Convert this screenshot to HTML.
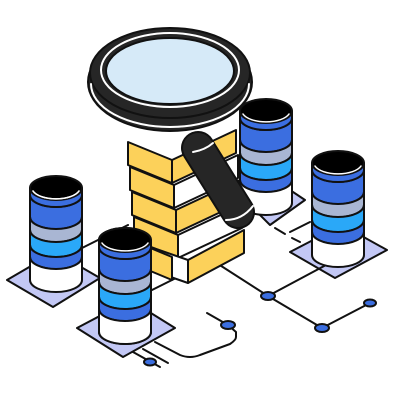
<!DOCTYPE html>
<html><head><meta charset="utf-8"><style>html,body{margin:0;padding:0;background:#fff}svg{display:block}</style></head>
<body>
<svg id="s" width="400" height="400" viewBox="0 0 400 400" xmlns="http://www.w3.org/2000/svg" stroke="#111" stroke-width="2" stroke-linejoin="round" stroke-linecap="round">
<!-- plates -->
<polygon points="7,280 53,307 100,278 55,252" fill="#c3c8f5"/>
<polygon points="77,328 123,357 175,328 130,300" fill="#c3c8f5"/>
<polygon points="240,195 270,225 305,200 275,180" fill="#c3c8f5"/>
<polygon points="290,252 335,278 387,250 342,225" fill="#c3c8f5"/>
<!-- connectors -->
<g fill="none">
<path d="M215,262 L268,296 L326,265"/>
<path d="M268,296 L322,328 L370,303"/>
<path d="M82,248 L128,225"/>
<path d="M152,290 L180,276"/>
<path d="M207,313 L228,325 L236,332 L236,337 Q236,340 230,344 L200,355 Q190,359 180,355 L155,342"/>
<path d="M133,352 L160,367 M143,349 L168,363"/>
<path d="M275,228 L285,234 M292,238 L300,242 M290,232 L310,222"/>
</g>
<g fill="#3b6ee0">
<ellipse cx="268" cy="296" rx="7" ry="4"/>
<ellipse cx="228" cy="325" rx="7" ry="4"/>
<ellipse cx="322" cy="328" rx="7" ry="4"/>
<ellipse cx="370" cy="303" rx="6" ry="3.5"/>
<ellipse cx="150" cy="362" rx="6" ry="3.5"/>
</g>
<g id="cyls"></g>
<g id="bricks"></g>
<!-- magnifier handle -->
<g>
<path d="M198,148 L238,212" stroke="#111" stroke-width="34" stroke-linecap="round"/>
<path d="M198,148 L238,212" stroke="#262626" stroke-width="30" stroke-linecap="round"/>
<path d="M193,152 Q205,150 213,143" stroke="#fff" fill="none" stroke-width="2"/>
<path d="M226,220 Q242,220 253,206" stroke="#fff" fill="none" stroke-width="2"/>
</g>
<!-- ring -->
<ellipse cx="170" cy="82" rx="82" ry="49" fill="#262626"/>
<ellipse cx="170" cy="73" rx="80" ry="45" fill="#262626"/>
<path d="M91,84 A79 43 0 0 0 249,84" stroke="#fff" fill="none" stroke-width="2"/>
<ellipse cx="170" cy="70" rx="69" ry="37" fill="none" stroke="#fff" stroke-width="2"/>
<ellipse cx="170" cy="71" rx="64" ry="33" fill="#d6eaf8"/>
</svg>
<script>
var NS="http://www.w3.org/2000/svg";
function el(p,t,a){var e=document.createElementNS(NS,t);for(var k in a)e.setAttribute(k,a[k]);p.appendChild(e);return e;}
var cg=document.getElementById('cyls');
function cyl(x,y){var r=26,ry=12;
 var b=[[7,29,'#3b6ee0'],[29,42,'#a9b6d3'],[42,57,'#2aa8f8'],[57,69,'#3b6ee0'],[69,92,'#ffffff']];
 b.forEach(function(q){var y1=y+q[0],y2=y+q[1];
  el(cg,'path',{d:'M'+(x-r)+','+y1+' A'+r+' '+ry+' 0 0 0 '+(x+r)+','+y1+' L'+(x+r)+','+y2+' A'+r+' '+ry+' 0 0 1 '+(x-r)+','+y2+' Z',fill:q[2]});});
 el(cg,'path',{d:'M'+(x-r)+','+y+' L'+(x-r)+','+(y+7)+' A'+r+' '+ry+' 0 0 0 '+(x+r)+','+(y+7)+' L'+(x+r)+','+y+' Z',fill:'#3b6ee0'});
 el(cg,'ellipse',{cx:x,cy:y,rx:r,ry:ry,fill:'#000'});
 el(cg,'path',{d:'M'+(x-r+3)+','+(y+3)+' A'+(r-2)+' '+(ry-1)+' 0 0 0 '+(x+r-3)+','+(y+3),stroke:'#fff',fill:'none','stroke-width':1.5});
}
cyl(266,111);cyl(338,163);cyl(56,188);cyl(125,240);
var bg=document.getElementById('bricks');
var cols=[['#fcd15a','#fcd15a'],['#fcd15a','#fff'],['#fcd15a','#fcd15a'],['#fcd15a','#fff'],['#fff','#fcd15a']];
for(var i=0;i<5;i++){var y=142+i*25,dx=i*2;
 var L=128+dx,M=172+dx+(i==4?8:0),R=236+dx;var h=23;
 var ym=y+18,yr=y-12;
 el(bg,'polygon',{points:L+','+y+' '+M+','+ym+' '+M+','+(ym+h)+' '+L+','+(y+h),fill:cols[i][0]});
 el(bg,'polygon',{points:M+','+ym+' '+R+','+yr+' '+R+','+(yr+h)+' '+M+','+(ym+h),fill:cols[i][1]});
 if(i==4){el(bg,'polygon',{points:L+','+y+' '+(L+36)+','+(y+15)+' '+(L+36)+','+(y+h+15)+' '+L+','+(y+h),fill:'#fcd15a'});}
}
var front=cg.cloneNode(true);front.id='';
var kids=[].slice.call(front.childNodes);kids.slice(0,kids.length-9).forEach(function(n){front.removeChild(n);});
bg.parentNode.insertBefore(front,bg.nextSibling);
</script>
</body></html>
